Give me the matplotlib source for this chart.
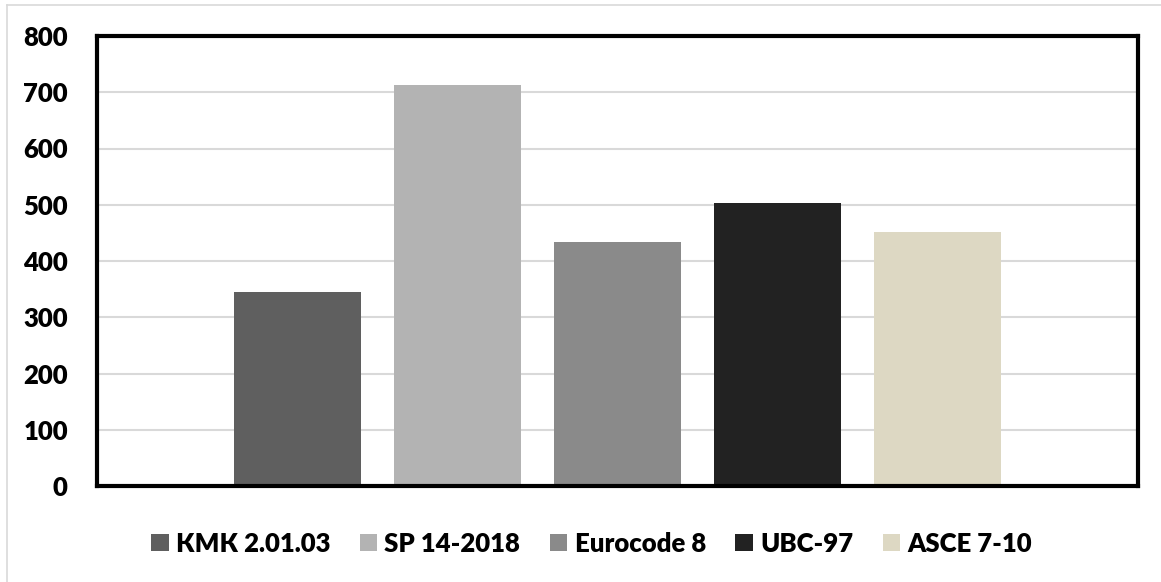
import matplotlib
matplotlib.use("Agg")
import matplotlib.pyplot as plt
from matplotlib.lines import Line2D

# ---- data ----
series = ["КМК 2.01.03", "SP 14-2018", "Eurocode 8", "UBC-97", "ASCE 7-10"]
values = [345, 713, 434, 503, 452]
colors = ["#5F5F5F", "#B3B3B3", "#8A8A8A", "#222222", "#DDD8C3"]
yticks = [0, 100, 200, 300, 400, 500, 600, 700, 800]

plt.rcParams['font.family'] = ['Lato', 'DejaVu Sans']

W, H = 1161, 582
fig = plt.figure(figsize=(W / 100, H / 100), dpi=100)

# axes placement in pixels
ax_l, ax_r, ax_t, ax_b = 97, 1138, 36, 486
ax = fig.add_axes([ax_l / W, 1 - ax_b / H, (ax_r - ax_l) / W, (ax_b - ax_t) / H])

pitch_px = 160.0
bar_w_px = 126.5
n = len(series)
center = (n - 1) / 2
half_units = (ax_r - ax_l) / 2 / pitch_px
for i, (name, v, c) in enumerate(zip(series, values, colors)):
    ax.bar(i, v, width=bar_w_px / pitch_px, color=c, label=name, zorder=3)

ax.set_xlim(center - half_units, center + half_units)
ax.set_ylim(0, 800)
ax.set_yticks(yticks)
ax.set_yticklabels([str(t) for t in yticks], fontsize=18.5, fontweight='heavy')
ax.set_xticks([])
ax.tick_params(axis='y', length=0, pad=21)
ax.yaxis.grid(True, color="#D9D9D9", linewidth=1.5, zorder=0)
ax.set_axisbelow(True)
for s in ax.spines.values():
    s.set_linewidth(3)
    s.set_color("black")
    s.set_zorder(4)

leg = fig.legend(
    loc='center', bbox_to_anchor=(591.5 / W, 1 - 543.5 / H),
    ncol=5, frameon=False,
    prop={'weight': 'heavy', 'size': 18.5},
    handlelength=0.68, handleheight=0.68, handletextpad=0.28,
    columnspacing=1.15, borderaxespad=0, borderpad=0,
)

# light outer border (top and left)
fig.add_artist(Line2D([7 / W, 7 / W], [0, 1 - 5 / H], color="#D9D9D9", linewidth=1.2,
                      transform=fig.transFigure))
fig.add_artist(Line2D([7 / W, 1], [1 - 5 / H, 1 - 5 / H], color="#D9D9D9", linewidth=1.2,
                      transform=fig.transFigure))

fig.savefig("out.png", dpi=100)
